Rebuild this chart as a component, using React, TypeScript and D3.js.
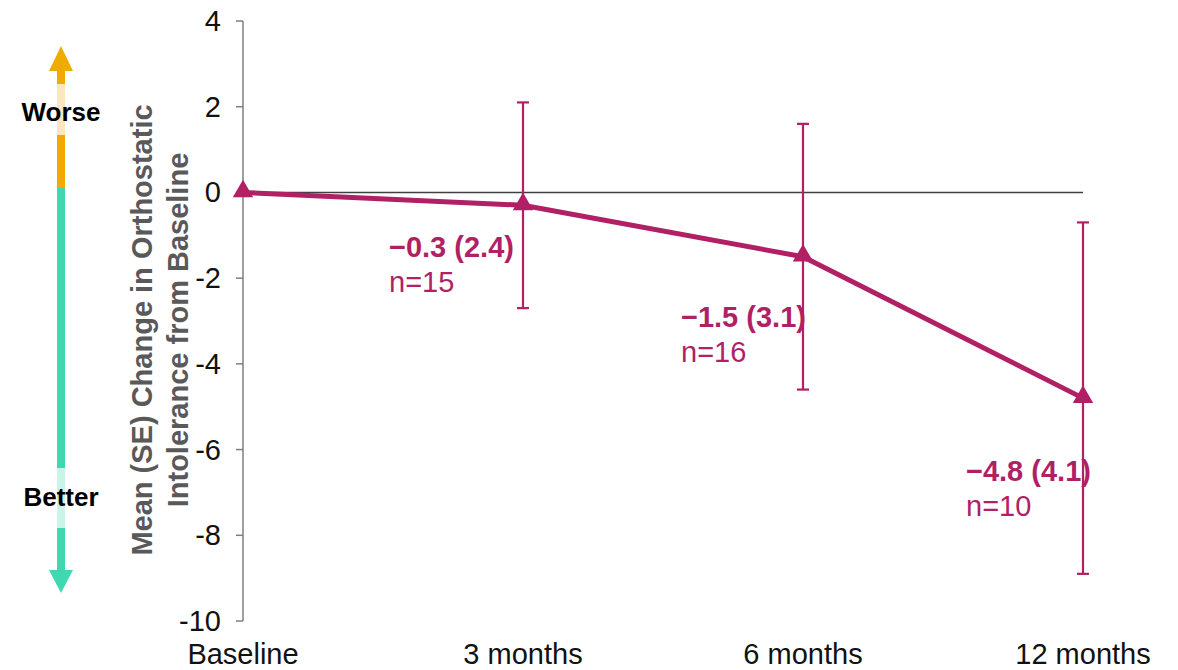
import React from "react";
import * as d3 from "d3";

const categories = ["Baseline", "3 months", "6 months", "12 months"];
const means = [0, -0.3, -1.5, -4.8];
const ses = [0, 2.4, 3.1, 4.1];
const ns = [null, 15, 16, 10];
const meanLabels = ["", "\u22120.3 (2.4)", "\u22121.5 (3.1)", "\u22124.8 (4.1)"];
const yTicks = [4, 2, 0, -2, -4, -6, -8, -10];

const W = 1178;
const H = 670;
const MAG = "#B11F65";
const FONT = "'Liberation Sans', Arial, sans-serif";

export default function App() {
  const x = d3.scalePoint<string>().domain(categories).range([243, 1083]);
  const y = d3.scaleLinear().domain([-10, 4]).range([621, 21]);

  const line = d3
    .line<number>()
    .x((_, i) => x(categories[i]) as number)
    .y((d) => y(d));

  const tri = d3.symbol().type(d3.symbolTriangle).size(180);

  const labelOffsets = [
    null,
    { dx: -134, dy: 52 },
    { dx: -122, dy: 70 },
    { dx: -117, dy: 83 },
  ];

  return (
    <svg
      width={W}
      height={H}
      style={{ position: "absolute", left: 0, top: 0, background: "#fff" }}
      fontFamily={FONT}
    >
      {/* Worse / Better arrow */}
      <g>
        <rect x={57} y={70} width={8} height={14} fill="#F0AB00" />
        <rect x={57} y={84} width={8} height={51} fill="#FCE7BE" />
        <rect x={57} y={135} width={8} height={53} fill="#F0AB00" />
        <polygon points="61,46 49,71 73,71" fill="#F0AB00" />
        <rect x={57} y={188} width={8} height={280} fill="#3FD8B0" />
        <rect x={57} y={468} width={8} height={60} fill="#CBF3E7" />
        <rect x={57} y={528} width={8} height={43} fill="#3FD8B0" />
        <polygon points="49,570 73,570 61,593" fill="#3FD8B0" />
        <text x={61} y={121} textAnchor="middle" fontSize={26} fontWeight="bold" fill="#000">
          Worse
        </text>
        <text x={61} y={506} textAnchor="middle" fontSize={26} fontWeight="bold" fill="#000">
          Better
        </text>
      </g>

      {/* Y axis title */}
      <g transform="translate(0,330) rotate(-90)" fill="#595959" fontSize={29} fontWeight="bold" textAnchor="middle">
        <text x={0} y={152}>Mean (SE) Change in Orthostatic</text>
        <text x={0} y={188}>Intolerance from Baseline</text>
      </g>

      {/* Y axis */}
      <line x1={243} x2={243} y1={y(4)} y2={y(-10)} stroke="#7F7F7F" strokeWidth={1.5} />
      {yTicks.map((t) => (
        <g key={t}>
          <line x1={236} x2={243} y1={y(t)} y2={y(t)} stroke="#7F7F7F" strokeWidth={1.5} />
          <text x={221} y={y(t) + 10} textAnchor="end" fontSize={29} fill="#111">
            {t}
          </text>
        </g>
      ))}

      {/* Zero line */}
      <line x1={243} x2={x(categories[3])} y1={y(0)} y2={y(0)} stroke="#404040" strokeWidth={1.5} />

      {/* X labels */}
      {categories.map((c) => (
        <text key={c} x={x(c)} y={664} textAnchor="middle" fontSize={29} fill="#111">
          {c}
        </text>
      ))}

      {/* Error bars */}
      {categories.map((c, i) =>
        ses[i] > 0 ? (
          <g key={"eb" + c} stroke={MAG} strokeWidth={2.2}>
            <line x1={x(c)} x2={x(c)} y1={y(means[i] + ses[i])} y2={y(means[i] - ses[i])} />
            <line x1={(x(c) as number) - 6} x2={(x(c) as number) + 6} y1={y(means[i] + ses[i])} y2={y(means[i] + ses[i])} />
            <line x1={(x(c) as number) - 6} x2={(x(c) as number) + 6} y1={y(means[i] - ses[i])} y2={y(means[i] - ses[i])} />
          </g>
        ) : null
      )}

      {/* Line */}
      <path d={line(means) || ""} fill="none" stroke={MAG} strokeWidth={5} strokeLinejoin="round" />

      {/* Markers */}
      {categories.map((c, i) => (
        <path key={"m" + c} d={tri() || ""} transform={`translate(${x(c)},${y(means[i]) - 1})`} fill={MAG} />
      ))}

      {/* Labels */}
      {categories.map((c, i) => {
        const o = labelOffsets[i];
        if (!o) return null;
        const lx = (x(c) as number) + o.dx;
        const ly = y(means[i]) + o.dy;
        return (
          <g key={"l" + c} fill={MAG} fontSize={29}>
            <text x={lx} y={ly} fontWeight="bold">
              {meanLabels[i]}
            </text>
            <text x={lx} y={ly + 35}>n={ns[i]}</text>
          </g>
        );
      })}
    </svg>
  );
}
